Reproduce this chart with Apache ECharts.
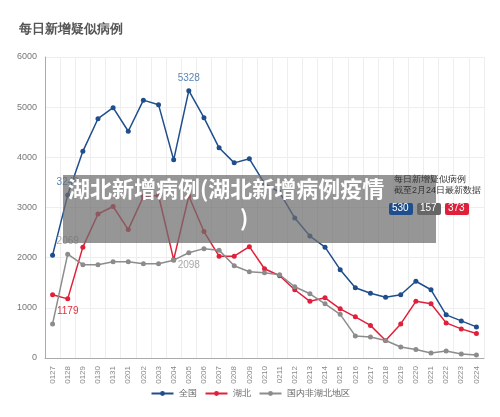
<!DOCTYPE html><html><head><meta charset="utf-8"><script src="https://cdn.jsdelivr.net/npm/echarts@6/dist/echarts.min.js"></script></head><body style="margin:0"><div id="c" style="width:500px;height:417px"></div><script>
const dates=['0127','0128','0129','0130','0131','0201','0202','0203','0204','0205','0206','0207','0208','0209','0210','0211','0212','0213','0214','0215','0216','0217','0218','0219','0220','0221','0222','0223','0224'];
const national=[2050,3248,4120,4770,4990,4520,5140,5050,3950,5328,4790,4190,3890,3970,3480,3300,2790,2430,2210,1760,1400,1290,1210,1260,1530,1360,860,740,620];
const hubei=[1260,1179,2210,2870,3020,2560,3220,3240,1960,3230,2520,2030,2030,2220,1780,1640,1360,1130,1200,980,820,650,350,680,1130,1080,700,580,490];
const other=[680,2069,1860,1860,1920,1920,1880,1880,1950,2098,2180,2150,1840,1720,1700,1660,1420,1280,1080,870,440,420,350,220,170,100,140,80,60];
const c=echarts.init(document.getElementById('c'));
function lab(arr,idxs,color,pos){return arr.map((v,i)=>idxs.includes(i)?{value:v,label:{show:true,position:pos,color:color,fontSize:10}}:v);}
c.setOption({
title:{text:'每日新增疑似病例',left:14,top:18,textStyle:{fontSize:13,fontWeight:'bold',color:'#555'}},
grid:{left:45,right:16,top:57,bottom:59},
legend:{bottom:14,itemWidth:22,itemHeight:6,textStyle:{fontSize:9,color:'#666'},data:['全国','湖北','国内非湖北地区']},
xAxis:{type:'category',data:dates,axisLabel:{rotate:90,fontSize:8,color:'#888'},axisTick:{show:false},axisLine:{lineStyle:{color:'#aaa'}},splitLine:{show:true,lineStyle:{color:'#eee'}}},
yAxis:{type:'value',min:0,max:6000,interval:1000,axisLabel:{fontSize:9,color:'#777',formatter:v=>String(v)},axisLine:{show:true,lineStyle:{color:'#aaa'}},splitLine:{lineStyle:{color:'#eee'}}},
series:[
{name:'全国',type:'line',data:lab(national,[1,9],'#5a86b4','top'),color:'#1f4e8c',symbol:'circle',symbolSize:5,lineStyle:{width:1.5}},
{name:'湖北',type:'line',data:lab(hubei,[1],'#e0303f','bottom'),color:'#e0203a',symbol:'circle',symbolSize:5,lineStyle:{width:1.5}},
{name:'国内非湖北地区',type:'line',data:lab(other,[1,9],'#aaa','top').map((d,i)=>i==9?{value:other[9],label:{show:true,position:'bottom',color:'#aaa',fontSize:10}}:d),color:'#8c8c8c',symbol:'circle',symbolSize:5,lineStyle:{width:1.5}}
],
graphic:[
{type:'rect',left:63,top:175,shape:{width:373,height:68},style:{fill:'rgba(110,110,110,0.72)'},z:100},
{type:'text',left:68,top:178,z:101,style:{text:'湖北新增病例(湖北新增病例疫情',fill:'#fff',font:'bold 22px "Noto Sans CJK SC"'}},
{type:'text',left:240,top:207,z:101,style:{text:')',fill:'#fff',font:'bold 22px "Noto Sans CJK SC"'}},
{type:'text',left:394,top:174,z:102,style:{text:'每日新增疑似病例\n截至2月24日最新数据',fill:'#333',font:'9px sans-serif',lineHeight:11}},
{type:'rect',left:389,top:203,z:102,shape:{width:24,height:12,r:2},style:{fill:'#1f4e8c'}},
{type:'text',left:392,top:203,z:103,style:{text:'530',fill:'#fff',font:'10px sans-serif'}},
{type:'rect',left:417,top:203,z:102,shape:{width:24,height:12,r:2},style:{fill:'#666'}},
{type:'text',left:420,top:203,z:103,style:{text:'157',fill:'#fff',font:'10px sans-serif'}},
{type:'rect',left:445,top:203,z:102,shape:{width:24,height:12,r:2},style:{fill:'#e0203a'}},
{type:'text',left:448,top:203,z:103,style:{text:'373',fill:'#fff',font:'10px sans-serif'}}
]});
</script></body></html>
